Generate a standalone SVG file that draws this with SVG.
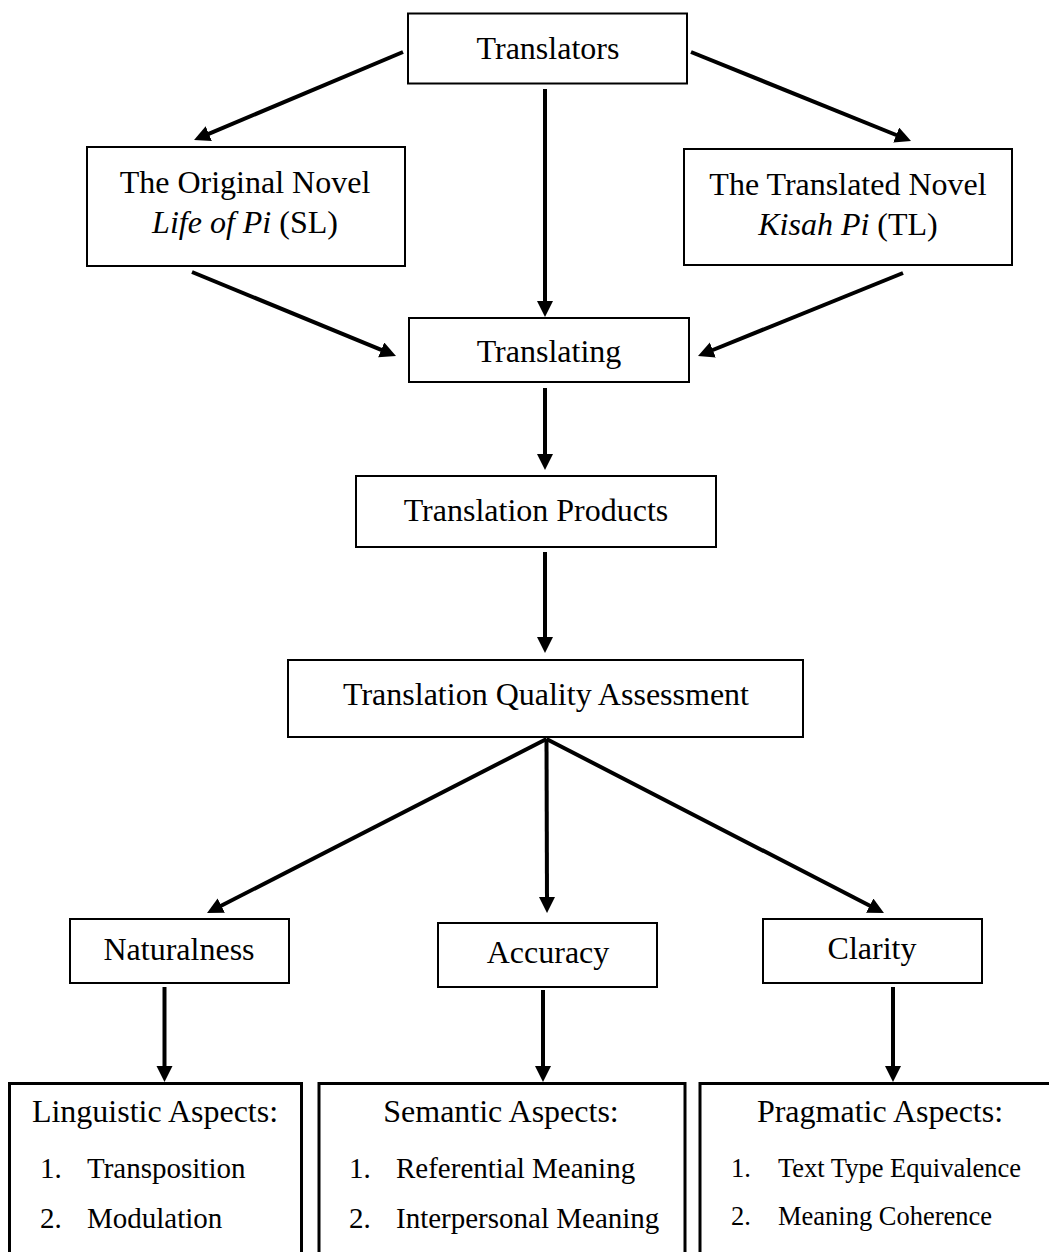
<svg xmlns="http://www.w3.org/2000/svg" width="1049" height="1252" viewBox="0 0 1049 1252">
<style>
.box{fill:#fff;stroke:#000;stroke-width:2}
.box3{fill:#fff;stroke:#000;stroke-width:3}
.t{font-family:"Liberation Serif","Times New Roman",serif;font-size:32px;fill:#000;text-anchor:middle}
.li{font-family:"Liberation Serif","Times New Roman",serif;font-size:29px;fill:#000}
.ls{font-family:"Liberation Serif","Times New Roman",serif;font-size:26.5px;fill:#000}
.c{stroke:#000;stroke-width:4;fill:none;marker-end:url(#ah)}
</style>
<defs>
<marker id="ah" markerUnits="userSpaceOnUse" markerWidth="17" markerHeight="17" refX="4" refY="8" orient="auto">
<path d="M0,0 L16,8 L0,16 z" fill="#000"/>
</marker>
</defs>
<rect width="1049" height="1252" fill="#fff"/>
<g id="connectors">
<line class="c" x1="403" y1="52" x2="205.1" y2="135.3"/>
<line class="c" x1="691" y1="52" x2="899.9" y2="136.5"/>
<line class="c" x1="545" y1="89" x2="545" y2="305"/>
<line class="c" x1="192" y1="272" x2="384.9" y2="351.4"/>
<line class="c" x1="903" y1="273" x2="709.1" y2="351.5"/>
<line class="c" x1="545" y1="388" x2="545" y2="458"/>
<line class="c" x1="545" y1="552" x2="545" y2="641"/>
<line class="c" x1="546.5" y1="739" x2="217.7" y2="907.5"/>
<line class="c" x1="546.5" y1="739" x2="547" y2="901"/>
<line class="c" x1="546.5" y1="739" x2="873.3" y2="907.5"/>
<line class="c" x1="164.5" y1="987" x2="164.5" y2="1070"/>
<line class="c" x1="543" y1="990" x2="543" y2="1070"/>
<line class="c" x1="893" y1="987" x2="893" y2="1070"/>
</g>
<g id="translators">
<rect class="box" x="408" y="13.5" width="279" height="70"/>
<text class="t" x="548" y="59">Translators</text>
</g>
<g id="original-novel">
<rect class="box" x="87" y="147" width="318" height="119"/>
<text class="t" x="245" y="193">The Original Novel</text>
<text class="t" x="245" y="233"><tspan font-style="italic">Life of Pi</tspan> (SL)</text>
</g>
<g id="translated-novel">
<rect class="box" x="684" y="149" width="328" height="116"/>
<text class="t" x="848" y="195">The Translated Novel</text>
<text class="t" x="848" y="235"><tspan font-style="italic">Kisah Pi</tspan> (TL)</text>
</g>
<g id="translating">
<rect class="box" x="409" y="318" width="280" height="64"/>
<text class="t" x="549" y="362">Translating</text>
</g>
<g id="translation-products">
<rect class="box" x="356" y="476" width="360" height="71"/>
<text class="t" x="536" y="521">Translation Products</text>
</g>
<g id="tqa">
<rect class="box" x="288" y="660" width="515" height="77"/>
<text class="t" x="546" y="705">Translation Quality Assessment</text>
</g>
<g id="naturalness">
<rect class="box" x="70" y="919" width="219" height="64"/>
<text class="t" x="179" y="960">Naturalness</text>
</g>
<g id="accuracy">
<rect class="box" x="438" y="923" width="219" height="64"/>
<text class="t" x="548" y="963">Accuracy</text>
</g>
<g id="clarity">
<rect class="box" x="763" y="919" width="219" height="64"/>
<text class="t" x="872" y="959">Clarity</text>
</g>
<g id="linguistic-aspects">
<rect class="box3" x="9.5" y="1083.5" width="292" height="180"/>
<text class="t" x="155" y="1122">Linguistic Aspects:</text>
<text class="li" x="40" y="1178">1.</text>
<text class="li" x="87" y="1178">Transposition</text>
<text class="li" x="40" y="1228">2.</text>
<text class="li" x="87" y="1228">Modulation</text>
</g>
<g id="semantic-aspects">
<rect class="box3" x="319" y="1083.5" width="366" height="180"/>
<text class="t" x="501" y="1122">Semantic Aspects:</text>
<text class="li" x="349" y="1178">1.</text>
<text class="li" x="396" y="1178">Referential Meaning</text>
<text class="li" x="349" y="1228">2.</text>
<text class="li" x="396" y="1228">Interpersonal Meaning</text>
</g>
<g id="pragmatic-aspects">
<rect class="box3" x="700" y="1083.5" width="360" height="180"/>
<text class="t" x="880" y="1122">Pragmatic Aspects:</text>
<text class="ls" x="731" y="1177">1.</text>
<text class="ls" x="778" y="1177">Text Type Equivalence</text>
<text class="ls" x="731" y="1225">2.</text>
<text class="ls" x="778" y="1225">Meaning Coherence</text>
</g>
</svg>
